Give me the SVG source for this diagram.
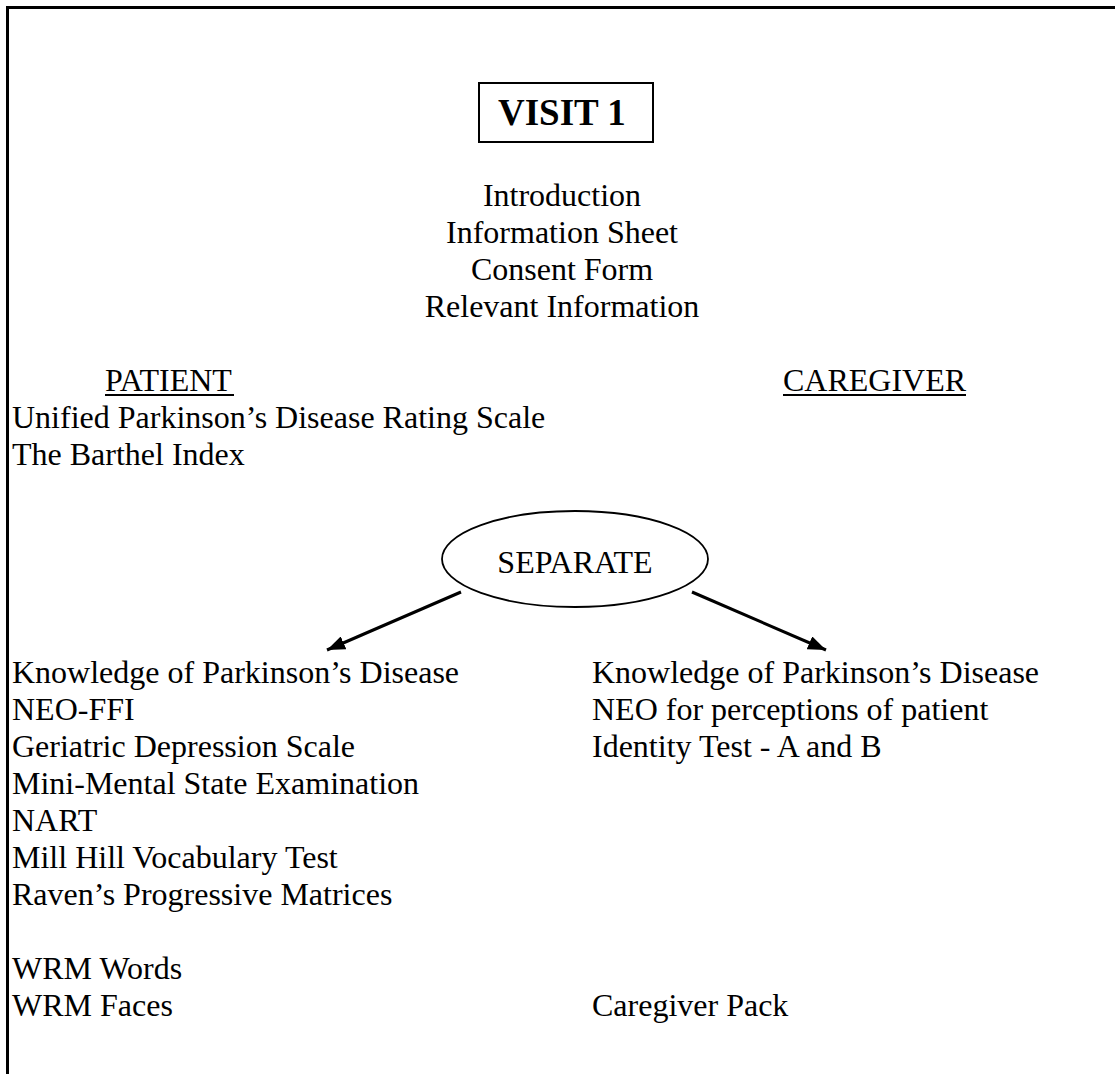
<svg xmlns="http://www.w3.org/2000/svg" width="1115" height="1074" viewBox="0 0 1115 1074">
  <style>
    text { font-family: "Liberation Serif", "Times New Roman", serif; font-size: 32px; fill: #000; }
    .c { text-anchor: middle; }
    .title { font-size: 37px; font-weight: bold; }
    .edge { stroke: #000; stroke-width: 3; fill: none; }
    .frame { stroke: #000; stroke-width: 3; fill: none; }
    .ul { stroke: #000; stroke-width: 2; }
  </style>
  <defs>
    <marker id="arrow" markerUnits="userSpaceOnUse" markerWidth="20" markerHeight="14" refX="18" refY="7" orient="auto">
      <path d="M0,0 L18,7 L0,14 Z" fill="#000"/>
    </marker>
  </defs>
  <rect width="1115" height="1074" fill="#fff"/>

  <!-- page frame: top and left rules only -->
  <path class="frame" d="M7.5,1074 V7.5 H1115"/>

  <!-- title box -->
  <g id="visit1">
    <rect x="479" y="83" width="174" height="59" fill="none" stroke="#000" stroke-width="2"/>
    <text class="title" x="498" y="125">VISIT 1</text>
  </g>

  <!-- introductory steps -->
  <g id="intro">
    <text class="c" x="562" y="206">Introduction</text>
    <text class="c" x="562" y="243">Information Sheet</text>
    <text class="c" x="562" y="280">Consent Form</text>
    <text class="c" x="562" y="317">Relevant Information</text>
  </g>

  <!-- column headings -->
  <g id="patient-heading">
    <text x="105" y="391">PATIENT</text>
    <line class="ul" x1="105" y1="395" x2="234" y2="395"/>
  </g>
  <g id="caregiver-heading">
    <text x="783" y="391">CAREGIVER</text>
    <line class="ul" x1="783" y1="395" x2="966" y2="395"/>
  </g>

  <!-- joint assessments -->
  <g id="joint">
    <text x="12" y="428">Unified Parkinson’s Disease Rating Scale</text>
    <text x="12" y="465">The Barthel Index</text>
  </g>

  <!-- separation node -->
  <g id="separate">
    <ellipse cx="575" cy="559" rx="133" ry="48" fill="none" stroke="#000" stroke-width="1.8"/>
    <text class="c" x="575" y="573">SEPARATE</text>
  </g>

  <!-- connectors -->
  <g id="connectors">
    <line class="edge" x1="461" y1="592" x2="327" y2="650" marker-end="url(#arrow)"/>
    <line class="edge" x1="692" y1="592" x2="826" y2="650" marker-end="url(#arrow)"/>
  </g>

  <!-- patient assessments -->
  <g id="patient-tasks">
    <text x="12" y="683">Knowledge of Parkinson’s Disease</text>
    <text x="12" y="720">NEO-FFI</text>
    <text x="12" y="757">Geriatric Depression Scale</text>
    <text x="12" y="794">Mini-Mental State Examination</text>
    <text x="12" y="831">NART</text>
    <text x="12" y="868">Mill Hill Vocabulary Test</text>
    <text x="12" y="905">Raven’s Progressive Matrices</text>
    <text x="12" y="979">WRM Words</text>
    <text x="12" y="1016">WRM Faces</text>
  </g>

  <!-- caregiver assessments -->
  <g id="caregiver-tasks">
    <text x="592" y="683">Knowledge of Parkinson’s Disease</text>
    <text x="592" y="720">NEO for perceptions of patient</text>
    <text x="592" y="757">Identity Test - A and B</text>
    <text x="592" y="1016">Caregiver Pack</text>
  </g>
</svg>
